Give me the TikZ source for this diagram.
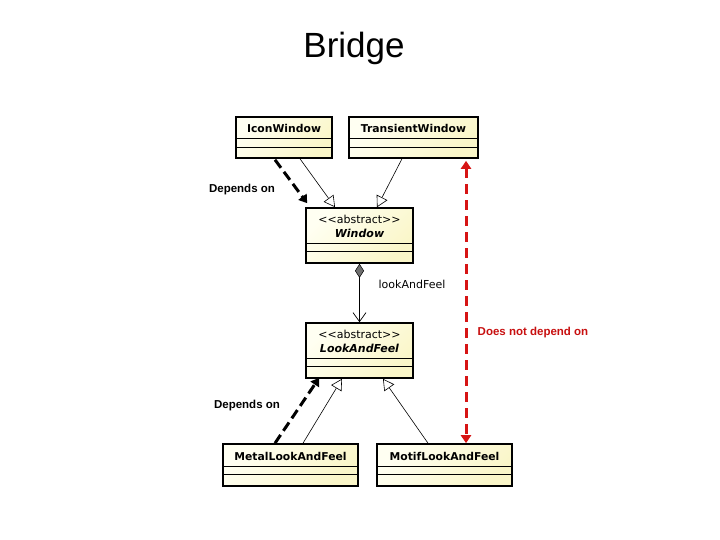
\documentclass[tikz,border=0pt]{standalone}
\usepackage{fontspec}
\setmainfont{DejaVu Sans}
\newfontfamily\arialfont{Liberation Sans}
\usetikzlibrary{arrows.meta,calc}
\definecolor{boxfill}{RGB}{250,246,200}
\definecolor{boxlight}{RGB}{255,255,242}
\definecolor{depred}{RGB}{214,20,20}
\definecolor{txtred}{RGB}{200,16,16}
\definecolor{diagray}{RGB}{110,110,110}
\tikzset{
  umlbox/.style={draw=black, line width=1.6pt, top color=boxlight, bottom color=boxfill, shading angle=45, inner sep=0pt, minimum width=#1},
  boxtext/.style={anchor=base, inner sep=0pt, font=\fontsize{10.8}{12}\selectfont\bfseries},
  stereo/.style={anchor=base, inner sep=0pt, font=\fontsize{11}{12}\selectfont},
  comp/.style={line width=0.8pt},
  inherit/.style={line width=0.6pt, -{Triangle[open, length=11pt, width=12pt, fill=white]}},
  depblack/.style={line width=3pt, dash pattern=on 10pt off 5pt, -{Triangle[length=8pt, width=10pt]}},
  depredline/.style={line width=3pt, depred, dash pattern=on 10pt off 6pt, {Triangle[length=8pt, width=10pt]}-{Triangle[length=8pt, width=10pt]}},
  lbl/.style={anchor=base, inner sep=0pt, font=\arialfont\bfseries\fontsize{11.5}{13}\selectfont}
}
\begin{document}
\begin{tikzpicture}[x=1pt, y=-1pt]
\useasboundingbox[fill=white] (0,0) rectangle (720,540);

% title
\node[anchor=base, inner sep=0pt, font=\arialfont\fontsize{35}{40}\selectfont] (title) at (354,58) {Bridge};

% boxes
\node[umlbox=96pt, minimum height=41pt] (IW) at (284,137.5) {};
\node[umlbox=129pt, minimum height=41pt] (TW) at (413.5,137.5) {};
\node[umlbox=107pt, minimum height=55pt] (WIN) at (359.5,235.5) {};
\node[umlbox=107pt, minimum height=55pt] (LAF) at (359.5,350.5) {};
\node[umlbox=135pt, minimum height=42pt] (MET) at (290.5,465) {};
\node[umlbox=135pt, minimum height=42pt] (MOT) at (444.5,465) {};

% compartments
\foreach \b/\a/\c in {IW/22/31, TW/22/31, WIN/36/44, LAF/36/44, MET/23/31, MOT/23/31}{
  \draw[comp] ($(\b.north west)+(0,\a)$) -- ($(\b.north east)+(0,\a)$);
  \draw[comp] ($(\b.north west)+(0,\c)$) -- ($(\b.north east)+(0,\c)$);
}

% box texts
\node[boxtext] (IWt) at ($(IW.north)+(0,16)$) {IconWindow};
\node[boxtext] (TWt) at ($(TW.north)+(0,16)$) {TransientWindow};
\node[stereo] (WINs) at ($(WIN.north)+(0,16)$) {<{}<abstract>{}>};
\node[boxtext, font=\fontsize{11}{12}\selectfont\bfseries\itshape] (WINt) at ($(WIN.north)+(0,30)$) {Window};
\node[stereo] (LAFs) at ($(LAF.north)+(0,16)$) {<{}<abstract>{}>};
\node[boxtext, font=\fontsize{11}{12}\selectfont\bfseries\itshape] (LAFt) at ($(LAF.north)+(0,30)$) {LookAndFeel};
\node[boxtext] (METt) at ($(MET.north)+(0,17)$) {MetalLookAndFeel};
\node[boxtext] (MOTt) at ($(MOT.north)+(0,17)$) {MotifLookAndFeel};

% inheritance
\draw[inherit] ($(IW.south)+(16,0)$) -- ($(WIN.north)+(-24.5,0)$);
\draw[inherit] ($(TW.south)+(-11.5,0)$) -- ($(WIN.north)+(17.5,0)$);
\draw[inherit] ($(MET.north)+(12.5,0)$) -- ($(LAF.south)+(-17.5,0)$);
\draw[inherit] ($(MOT.north)+(-16.5,0)$) -- ($(LAF.south)+(23.5,0)$);

% composition
\draw[line width=0.7pt, {Diamond[fill=diagray, color=black, length=14pt, width=9pt, line width=0.5pt]}-{Straight Barb[length=9pt, width=13pt, line width=0.7pt]}] (WIN.south) -- (LAF.north);
\node[anchor=base, inner sep=0pt, font=\fontsize{11}{12}\selectfont] (lafl) at (412,288) {lookAndFeel};

% dependencies
\draw[depblack] ($(IW.south)+(-9,1)$) -- ($(WIN.north west)+(2,-4)$);
\draw[depblack] ($(MET.north)+(-15.5,0)$) -- ($(LAF.south west)+(14,-1)$);
\coordinate (rtop) at ($(TW.south)+(52.5,2)$);
\coordinate (rbot) at ($(MOT.north)+(21.5,0)$);
\draw[depredline] (rtop) -- (rbot);

% labels
\node[lbl] (dep1) at (242,193) {Depends on};
\node[lbl] (dep2) at (247,408) {Depends on};
\node[lbl, text=txtred] (ndep) at (533,335) {Does not depend on};
\end{tikzpicture}
\end{document}
